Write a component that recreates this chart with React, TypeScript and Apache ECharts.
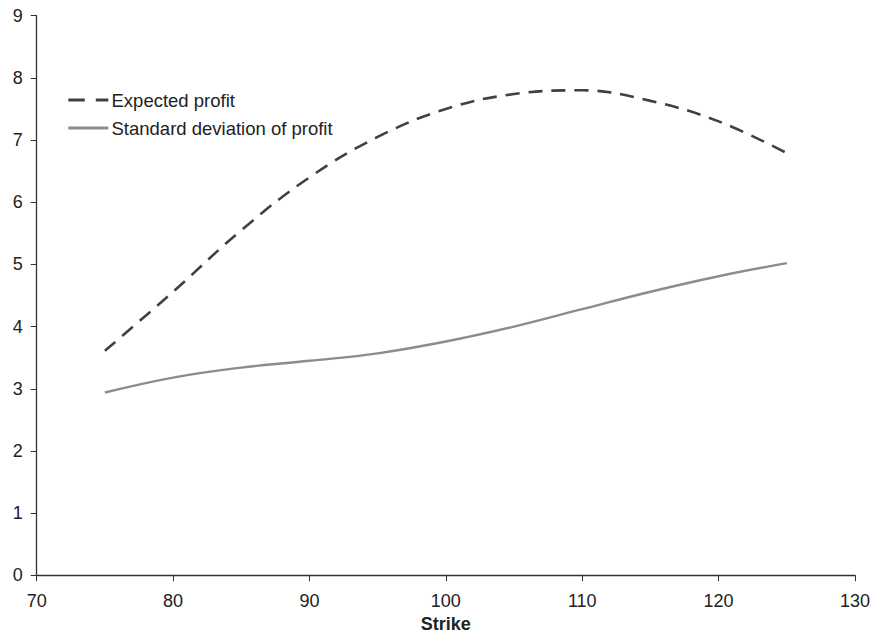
import React, { useEffect, useRef } from "react";
import * as echarts from "echarts";

const strikes = [75, 80, 85, 90, 95, 100, 105, 110, 115, 120, 125];
const expectedProfit = [3.61, 4.56, 5.55, 6.4, 7.05, 7.5, 7.74, 7.8, 7.63, 7.3, 6.79];
const stdDevProfit = [2.94, 3.18, 3.34, 3.45, 3.57, 3.76, 4.0, 4.28, 4.56, 4.81, 5.02];
const seriesNames = ["Expected profit", "Standard deviation of profit"];
const xAxisName = "Strike";

const FONT = "'Liberation Sans', Arial, Helvetica, sans-serif";
const DARK = "#404040";
const GREY = "#8c8c8c";

export default function App() {
  const ref = useRef<HTMLDivElement>(null);
  useEffect(() => {
    if (!ref.current) return;
    const chart = echarts.init(ref.current, undefined, { renderer: "svg" });
    const legendRows = [
      { name: seriesNames[0], y: 100, color: DARK, dash: [16.5, 11], width: 3 },
      { name: seriesNames[1], y: 128, color: GREY, dash: null, width: 3 },
    ];
    const legendGraphics: any[] = [];
    legendRows.forEach((r) => {
      legendGraphics.push({
        type: "line",
        shape: { x1: 68.3, y1: r.y, x2: 108.3, y2: r.y },
        style: { stroke: r.color, lineWidth: r.width, lineDash: r.dash || undefined },
        silent: true,
      });
      legendGraphics.push({
        type: "text",
        x: 111.5,
        y: r.y,
        style: {
          text: r.name,
          fontSize: 18.5,
          fontFamily: FONT,
          fill: "#222",
          verticalAlign: "middle",
          align: "left",
        },
        silent: true,
      });
    });
    chart.setOption({
      animation: false,
      backgroundColor: "#ffffff",
      textStyle: { fontFamily: FONT },
      grid: { left: 36.7, right: 19, top: 15.7, bottom: 58.7, containLabel: false, outerBoundsMode: "none" },
      graphic: legendGraphics,
      xAxis: {
        type: "value",
        min: 70,
        max: 130,
        interval: 10,
        name: xAxisName,
        nameLocation: "middle",
        nameGap: 40,
        nameTextStyle: { fontSize: 18, fontWeight: "bold", color: "#222", fontFamily: FONT },
        axisLine: { show: true, lineStyle: { color: "#333", width: 1.3 } },
        axisTick: { show: true, inside: false, length: 6, lineStyle: { color: "#333" } },
        axisLabel: { fontSize: 18, color: "#222", margin: 17, fontFamily: FONT },
        splitLine: { show: false },
      },
      yAxis: {
        type: "value",
        min: 0,
        max: 9,
        interval: 1,
        axisLine: { show: true, lineStyle: { color: "#333", width: 1.3 } },
        axisTick: { show: true, inside: false, length: 6, lineStyle: { color: "#333" } },
        axisLabel: { fontSize: 18, color: "#222", margin: 14, fontFamily: FONT },
        splitLine: { show: false },
      },
      series: [
        {
          name: seriesNames[0],
          type: "line",
          smooth: 0.4,
          symbol: "none",
          data: strikes.map((s, i) => [s, expectedProfit[i]]),
          lineStyle: { color: DARK, width: 2.6, type: [14, 9] },
          itemStyle: { color: DARK },
        },
        {
          name: seriesNames[1],
          type: "line",
          smooth: 0.4,
          symbol: "none",
          data: strikes.map((s, i) => [s, stdDevProfit[i]]),
          lineStyle: { color: GREY, width: 2.4 },
          itemStyle: { color: GREY },
        },
      ],
    });
    return () => chart.dispose();
  }, []);
  return (
    <div
      ref={ref}
      style={{ position: "fixed", left: 0, top: 0, width: 874, height: 634, background: "#fff" }}
    />
  );
}
